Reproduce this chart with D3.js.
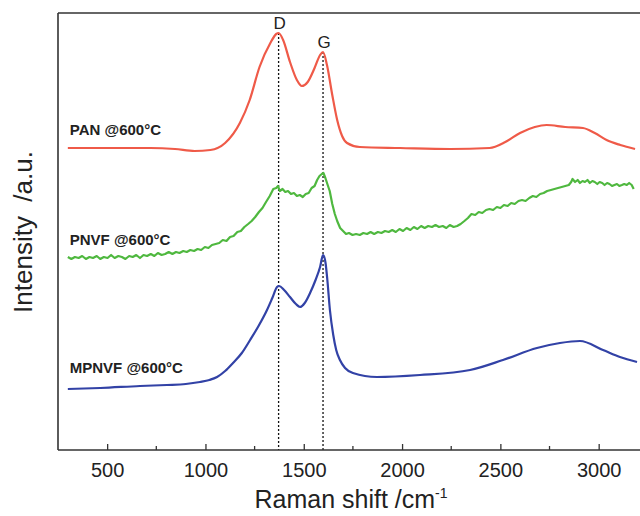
<!DOCTYPE html>
<html>
<head>
<meta charset="utf-8">
<script src="https://cdn.jsdelivr.net/npm/d3@7"></script>
<style>
  body { margin: 0; background: #fff; }
  svg { display: block; font-family: "Liberation Sans", Arial, sans-serif; }
</style>
</head>
<body>
<div class="graph_raman"></div>
<script>
// Raman spectra, intensity in arbitrary units
const panShift = [300, 465, 720, 845, 945, 1025, 1100, 1175, 1225, 1275, 1330, 1360, 1372, 1395, 1430, 1465, 1490, 1520, 1555, 1583, 1598, 1618, 1645, 1670, 1695, 1720, 1785, 1990, 2245, 2445, 2525, 2600, 2675, 2735, 2830, 2920, 2980, 3040, 3110, 3185];
const panValue = [302, 302, 302, 301, 299, 300, 307, 327, 350, 383, 407, 416, 417, 410, 388, 370, 364, 368, 382, 395, 398, 385, 355, 330, 314, 307, 303, 302, 301, 302, 308, 317, 323, 325, 323, 322, 317, 310, 305, 301];

const pnvfShift = [300, 318, 336, 355, 373, 392, 410, 428, 447, 465, 483, 502, 520, 538, 557, 575, 593, 612, 630, 648, 667, 685, 703, 722, 740, 758, 777, 795, 813, 832, 850, 868, 887, 905, 923, 942, 960, 978, 997, 1015, 1033, 1052, 1070, 1088, 1107, 1125, 1143, 1162, 1180, 1198, 1217, 1235, 1253, 1272, 1290, 1308, 1327, 1345, 1360, 1369, 1378, 1392, 1406, 1420, 1435, 1450, 1465, 1480, 1495, 1510, 1525, 1540, 1555, 1568, 1580, 1592, 1600, 1610, 1620, 1632, 1645, 1658, 1670, 1685, 1700, 1715, 1730, 1748, 1766, 1785, 1803, 1822, 1840, 1858, 1877, 1895, 1913, 1932, 1950, 1968, 1987, 2005, 2023, 2042, 2060, 2078, 2097, 2115, 2133, 2152, 2170, 2188, 2207, 2225, 2243, 2262, 2280, 2298, 2317, 2335, 2353, 2372, 2390, 2408, 2427, 2445, 2463, 2482, 2500, 2518, 2537, 2555, 2573, 2592, 2610, 2628, 2647, 2665, 2683, 2702, 2720, 2738, 2757, 2775, 2793, 2812, 2830, 2848, 2860, 2867, 2880, 2893, 2905, 2918, 2930, 2943, 2955, 2968, 2980, 2993, 3005, 3018, 3030, 3043, 3055, 3068, 3080, 3093, 3105, 3118, 3130, 3143, 3155, 3168, 3178];
const pnvfValue = [193, 191, 193, 192, 194, 191, 193, 192, 194, 191, 193, 192, 195, 192, 194, 193, 191, 194, 193, 195, 192, 195, 194, 196, 194, 197, 195, 196, 198, 196, 198, 197, 199, 198, 200, 199, 201, 200, 203, 202, 205, 206, 207, 210, 209, 213, 214, 218, 219, 223, 226, 229, 233, 238, 242, 248, 254, 261, 262, 264, 259, 261, 258, 259, 256, 257, 254, 255, 253, 256, 257, 262, 264, 270, 274, 276, 277, 272, 266, 259, 246, 236, 229, 222, 219, 216, 217, 215, 216, 215, 217, 216, 218, 216, 218, 217, 219, 218, 220, 218, 221, 219, 222, 220, 223, 221, 224, 222, 224, 223, 225, 223, 224, 222, 225, 223, 224, 226, 229, 232, 236, 235, 238, 237, 240, 241, 240, 243, 242, 245, 244, 247, 246, 249, 250, 249, 252, 254, 253, 256, 257, 259, 260, 261, 262, 263, 264, 265, 268, 271, 268, 270, 267, 269, 268, 270, 267, 269, 268, 266, 268, 267, 265, 267, 266, 264, 265, 266, 264, 265, 266, 265, 267, 265, 261];

const mpnvfShift = [300, 465, 667, 804, 900, 972, 1020, 1059, 1100, 1140, 1185, 1227, 1270, 1313, 1340, 1364, 1374, 1400, 1430, 1460, 1481, 1505, 1532, 1560, 1583, 1598, 1610, 1620, 1633, 1650, 1665, 1684, 1710, 1750, 1872, 2091, 2346, 2513, 2686, 2803, 2905, 3022, 3108, 3195];
const mpnvfValue = [61, 62, 64, 65, 66, 68, 70, 73, 79, 87, 97, 110, 124, 140, 152, 163, 164, 160, 153, 146, 143, 147, 157, 170, 183, 195, 188, 170, 140, 115, 100, 90, 82, 77, 73, 75, 80, 90, 102, 107, 109, 100, 93, 88];

const seriesNames = ["PAN @600°C", "PNVF @600°C", "MPNVF @600°C"];
const seriesColors = ["#ef5a48", "#4fb83f", "#3242a6"];
const labelShift = 310;
const labelValue = [315, 205, 77];

const bandNames = ["D", "G"];
const bandShift = [1372, 1598];
const bandTop = [417, 398];

const xTicks = [500, 1000, 1500, 2000, 2500, 3000];
const xMinorTicks = [750, 1250, 1750, 2250, 2750];

function draw_raman(){
  const width = 640, height = 516;
  const margin = {top: 13, right: 2, bottom: 66, left: 58};

  const svg = d3.select(".graph_raman").append("svg")
    .attr("width", width).attr("height", height);

  const x = d3.scaleLinear().domain([250, 3200]).range([margin.left, width - margin.right]);
  const y = d3.scaleLinear().domain([0, 437]).range([height - margin.bottom, margin.top]);

  const series = [
    {name: seriesNames[0], pts: panShift.map((s, i) => ({s: s, v: panValue[i]})), curve: d3.curveMonotoneX},
    {name: seriesNames[1], pts: pnvfShift.map((s, i) => ({s: s, v: pnvfValue[i]})), curve: d3.curveLinear},
    {name: seriesNames[2], pts: mpnvfShift.map((s, i) => ({s: s, v: mpnvfValue[i]})), curve: d3.curveMonotoneX}
  ];

  // dotted band markers
  svg.append("g")
    .selectAll("line")
    .data(bandShift)
    .join("line")
    .attr("x1", d => x(d)).attr("x2", d => x(d))
    .attr("y1", (d, i) => y(bandTop[i]))
    .attr("y2", y(0))
    .attr("stroke", "#111")
    .attr("stroke-width", 1.3)
    .attr("stroke-dasharray", "2,2");

  svg.append("g")
    .selectAll("text")
    .data(bandNames)
    .join("text")
    .attr("x", (d, i) => x(bandShift[i]) + 1)
    .attr("y", (d, i) => y(bandTop[i]) - 4)
    .attr("text-anchor", "middle")
    .attr("font-size", 17)
    .attr("fill", "#222")
    .text(d => d);

  // spectra
  svg.append("g")
    .selectAll("path")
    .data(series)
    .join("path")
    .attr("d", d => d3.line().x(p => x(p.s)).y(p => y(p.v)).curve(d.curve)(d.pts))
    .attr("fill", "none")
    .attr("stroke", (d, i) => seriesColors[i])
    .attr("stroke-width", 2.2)
    .attr("stroke-linejoin", "round");

  svg.append("g")
    .selectAll("text")
    .data(seriesNames)
    .join("text")
    .attr("x", x(labelShift))
    .attr("y", (d, i) => y(labelValue[i]))
    .attr("font-size", 15)
    .attr("font-weight", "bold")
    .attr("fill", "#222")
    .text(d => d);

  // frame: left, top, bottom
  const axisColor = "#333";
  svg.append("line")
    .attr("x1", margin.left).attr("x2", margin.left)
    .attr("y1", margin.top).attr("y2", y(0))
    .attr("stroke", axisColor).attr("stroke-width", 1.6);
  svg.append("line")
    .attr("x1", margin.left).attr("x2", width)
    .attr("y1", margin.top).attr("y2", margin.top)
    .attr("stroke", axisColor).attr("stroke-width", 1.6);

  const xAxis = d3.axisBottom(x).tickValues(xTicks).tickFormat(d3.format("d"))
    .tickSize(-6).tickPadding(13).tickSizeOuter(0);
  const gx = svg.append("g").attr("transform", `translate(0, ${y(0)})`).call(xAxis);
  gx.select(".domain").attr("stroke", axisColor).attr("stroke-width", 1.6).attr("d", `M${margin.left},0H${width}`);
  gx.selectAll(".tick line").attr("stroke", axisColor).attr("stroke-width", 1.3);
  gx.selectAll(".tick text").attr("font-size", 20).attr("fill", "#222")
    .attr("font-family", "Liberation Sans, Arial, sans-serif");

  gx.append("g")
    .selectAll("line")
    .data(xMinorTicks)
    .join("line")
    .attr("x1", d => x(d)).attr("x2", d => x(d))
    .attr("y1", 0).attr("y2", -4)
    .attr("stroke", axisColor).attr("stroke-width", 1.3);

  // axis titles
  const xTitle = svg.append("text")
    .attr("x", 351)
    .attr("y", 508)
    .attr("text-anchor", "middle")
    .attr("font-size", 25)
    .attr("fill", "#222");
  xTitle.append("tspan").text("Raman shift /cm");
  xTitle.append("tspan").attr("dy", -10).attr("font-size", 14).text("-1");

  svg.append("text")
    .attr("transform", `translate(32, ${232}) rotate(-90)`)
    .attr("text-anchor", "middle")
    .attr("font-size", 26)
    .attr("fill", "#222")
    .style("white-space", "pre")
    .text("Intensity  /a.u.");

  return svg.node();
}

draw_raman();
</script>
</body>
</html>
